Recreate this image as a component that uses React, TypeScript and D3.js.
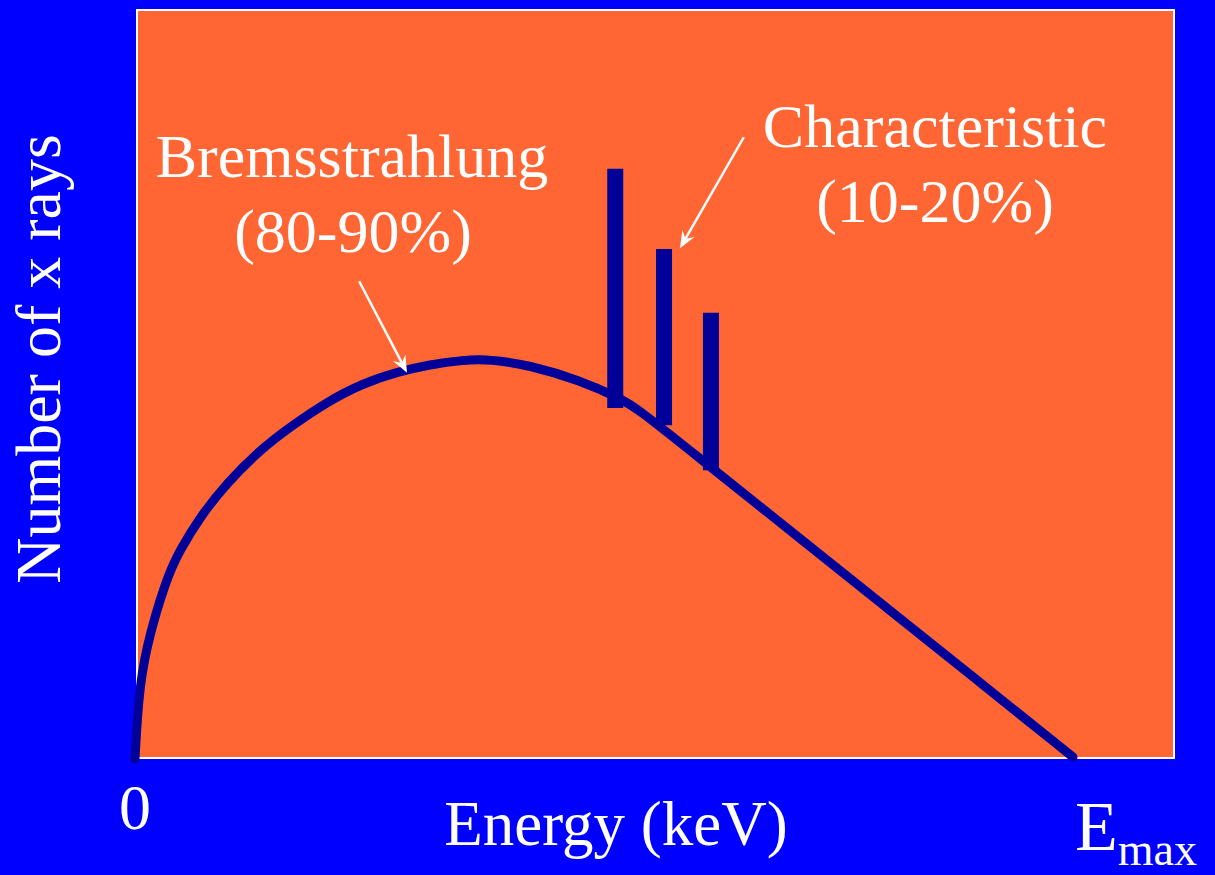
import React from "react";
import * as d3 from "d3";

// Bremsstrahlung spectrum (relative units, energy as % of Emax)
const energy = [0, 0.35, 1.07, 3.38, 4.8, 6.93, 9.78, 13.33, 16.52, 20.44, 24.3, 27.93, 31.45, 34.97, 37.85, 42.1, 47.4, 51.7, 53.5, 60, 70, 80, 90, 100];
const counts = [0, 7.87, 14.53, 24.27, 27.87, 32.27, 36.8, 41.2, 44.27, 47.6, 50.1, 51.6, 52.6, 53.2, 53.3, 52.5, 50.5, 48.1, 46.8, 40.3, 30.3, 20.3, 10.3, 0.25];

// Characteristic lines
const lineEnergy = [51.2, 56.4, 61.4];
const lineTop = [78.7, 68.0, 59.5];
const lineBottom = [46.8, 44.5, 38.5];

// Annotation arrows [fromX, fromY, toX, toY] in data units
const arrowBrems = [23.9, 63.7, 29.0, 51.5];
const arrowChar = [64.9, 82.9, 58.1, 68.1];

const W = 1215;
const H = 875;
const NAVY = "#000099";
const ORANGE = "#FF6633";
const BLUE = "#0000FF";
const FONT = "'Liberation Serif', 'Times New Roman', serif";

export default function App() {
  const x = d3.scaleLinear().domain([0, 100]).range([135, 1073]);
  const y = d3.scaleLinear().domain([0, 100]).range([759, 9]);

  const pts: [number, number][] = energy.map((e, i) => [e, counts[i]]);
  const line = d3
    .line<[number, number]>()
    .x((d) => x(d[0]))
    .y((d) => y(d[1]))
    .curve(d3.curveBasis);

  const arrow = (a: number[], key: string) => {
    const x1 = x(a[0]), y1 = y(a[1]), x2 = x(a[2]), y2 = y(a[3]);
    const ang = Math.atan2(y2 - y1, x2 - x1);
    const L = 17, hw = 7, notch = 11;
    const ca = Math.cos(ang), sa = Math.sin(ang);
    const p = (dx: number, dy: number) => [x2 + dx * ca - dy * sa, y2 + dx * sa + dy * ca];
    const a1 = p(-L, -hw), a2 = p(-notch, 0), a3 = p(-L, hw);
    const shaftEnd = p(-notch + 1, 0);
    return (
      <g key={key}>
        <line x1={x1} y1={y1} x2={shaftEnd[0]} y2={shaftEnd[1]} stroke="#fff" strokeWidth={2.5} />
        <path d={`M${x2},${y2}L${a1[0]},${a1[1]}L${a2[0]},${a2[1]}L${a3[0]},${a3[1]}Z`} fill="#fff" />
      </g>
    );
  };

  return (
    <svg width={W} height={H} style={{ position: "absolute", left: 0, top: 0, display: "block" }}>
      <rect x={0} y={0} width={W} height={H} fill={BLUE} />
      <rect x={137} y={10} width={1037} height={748} fill={ORANGE} stroke="#fff" strokeWidth={2} />

      {lineEnergy.map((e, i) => (
        <line key={i} x1={x(e)} x2={x(e)} y1={y(lineTop[i])} y2={y(lineBottom[i])} stroke={NAVY} strokeWidth={16} />
      ))}

      <path d={line(pts) || ""} fill="none" stroke={NAVY} strokeWidth={9} strokeLinecap="round" strokeLinejoin="round" />

      {arrow(arrowBrems, "b")}
      {arrow(arrowChar, "c")}

      <g fill="#fff" fontFamily={FONT} textAnchor="middle">
        <text x={352} y={177} fontSize={62}>Bremsstrahlung</text>
        <text x={353} y={252} fontSize={62}>(80-90%)</text>
        <text x={935} y={147} fontSize={62}>Characteristic</text>
        <text x={935} y={222} fontSize={62}>(10-20%)</text>
        <text x={616} y={845} fontSize={63}>Energy (keV)</text>
        <text x={135} y={829} fontSize={64}>0</text>
        <text transform="translate(60,359) rotate(-90)" fontSize={64}>Number of x rays</text>
      </g>
      <text x={1075} y={850} fill="#fff" fontFamily={FONT} fontSize={70}>
        E<tspan fontSize={46} dy={15}>max</tspan>
      </text>
    </svg>
  );
}
